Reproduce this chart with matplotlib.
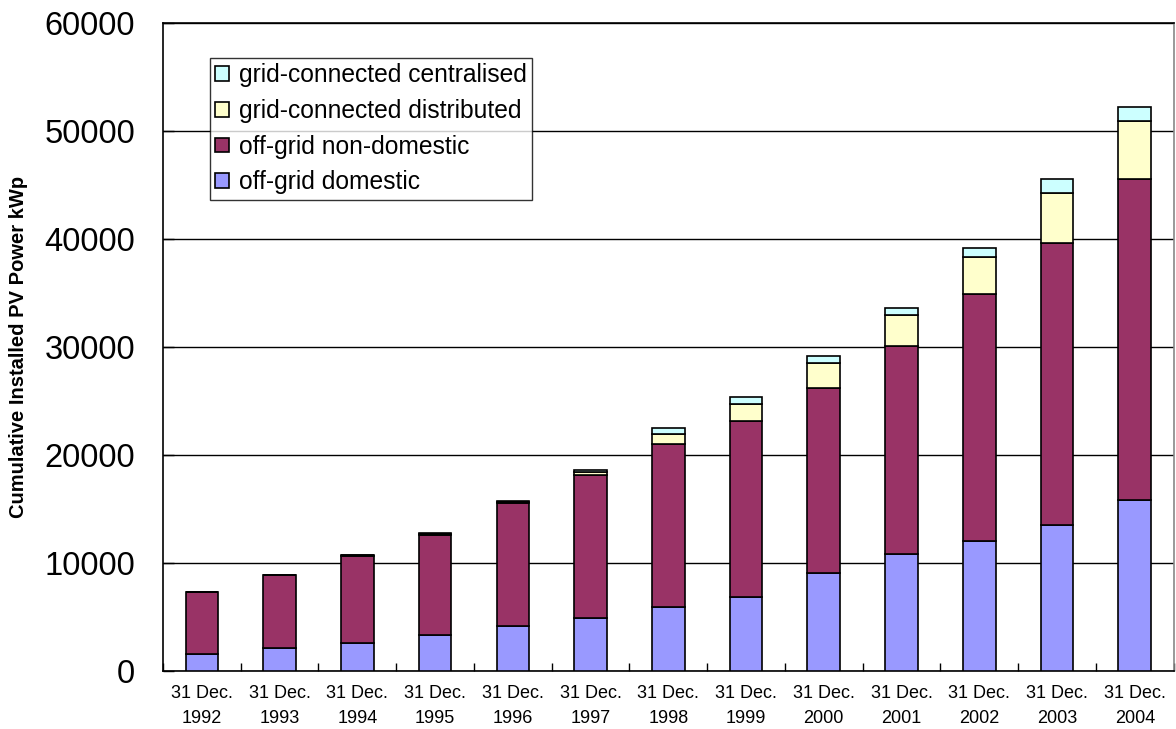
import matplotlib
matplotlib.use("Agg")
import matplotlib.pyplot as plt
import numpy as np

plt.rcParams['font.family'] = ['Liberation Sans', 'DejaVu Sans']

years = ['1992', '1993', '1994', '1995', '1996', '1997', '1998',
         '1999', '2000', '2001', '2002', '2003', '2004']
labels = ['31 Dec.\n' + y for y in years]

# kWp
off_domestic = [1570, 2070, 2530, 3270, 4100, 4870, 5910, 6780, 9080, 10820, 12050, 13510, 15820]
off_non_domestic = [5700, 6770, 8120, 9290, 11410, 13270, 15110, 16300, 17050, 19280, 22800, 26120, 29710]
grid_distributed = [10, 10, 20, 100, 150, 270, 900, 1610, 2400, 2830, 3450, 4640, 5340]
grid_centralised = [10, 10, 20, 50, 70, 210, 580, 650, 620, 620, 840, 1260, 1360]

series = [
    ('off-grid domestic', off_domestic, '#9999FF'),
    ('off-grid non-domestic', off_non_domestic, '#993366'),
    ('grid-connected distributed', grid_distributed, '#FFFFCC'),
    ('grid-connected centralised', grid_centralised, '#CCFFFF'),
]

fig = plt.figure(figsize=(11.76, 7.29), dpi=100)
ax = fig.add_axes([0.1386, 0.080, 0.8594, 0.889])

x = np.arange(len(years))
bottom = np.zeros(len(years))
for name, vals, col in series:
    ax.bar(x, vals, width=0.42, bottom=bottom, color=col, edgecolor='black',
           linewidth=1.2, label=name, zorder=3)
    bottom += np.array(vals)

ax.set_xlim(-0.5, len(years) - 0.5)
ax.set_ylim(0, 60000)
ax.set_yticks(range(0, 60001, 10000))
ax.yaxis.grid(True, color='black', linewidth=1.0, zorder=0)

ax.set_xticks(x)
ax.set_xticklabels(labels, fontsize=13, linespacing=1.65)
ax.set_xticks(np.arange(-0.5, len(years), 1.0), minor=True)
ax.tick_params(axis='x', which='major', length=0, pad=10)
ax.tick_params(axis='x', which='minor', direction='in', length=6, width=1)
ax.tick_params(axis='y', direction='in', length=8, width=1, labelsize=23.5, pad=20)

for s in ax.spines.values():
    s.set_linewidth(1.2)
    s.set_color('black')
ax.spines['right'].set_color('#888888')

ax.set_ylabel('Cumulative Installed PV Power kWp', fontsize=14.5, fontweight='bold', labelpad=12)

h, l = ax.get_legend_handles_labels()
leg = ax.legend(h[::-1], l[::-1], loc='upper left', bbox_to_anchor=(0.0465, 0.946),
                fontsize=17.7, frameon=True, fancybox=False, edgecolor='black',
                handlelength=0.55, handleheight=0.55, handletextpad=0.4,
                labelspacing=0.48, borderpad=0.22, borderaxespad=0)
leg.get_frame().set_linewidth(1.0)

fig.savefig('out.png', dpi=100)
